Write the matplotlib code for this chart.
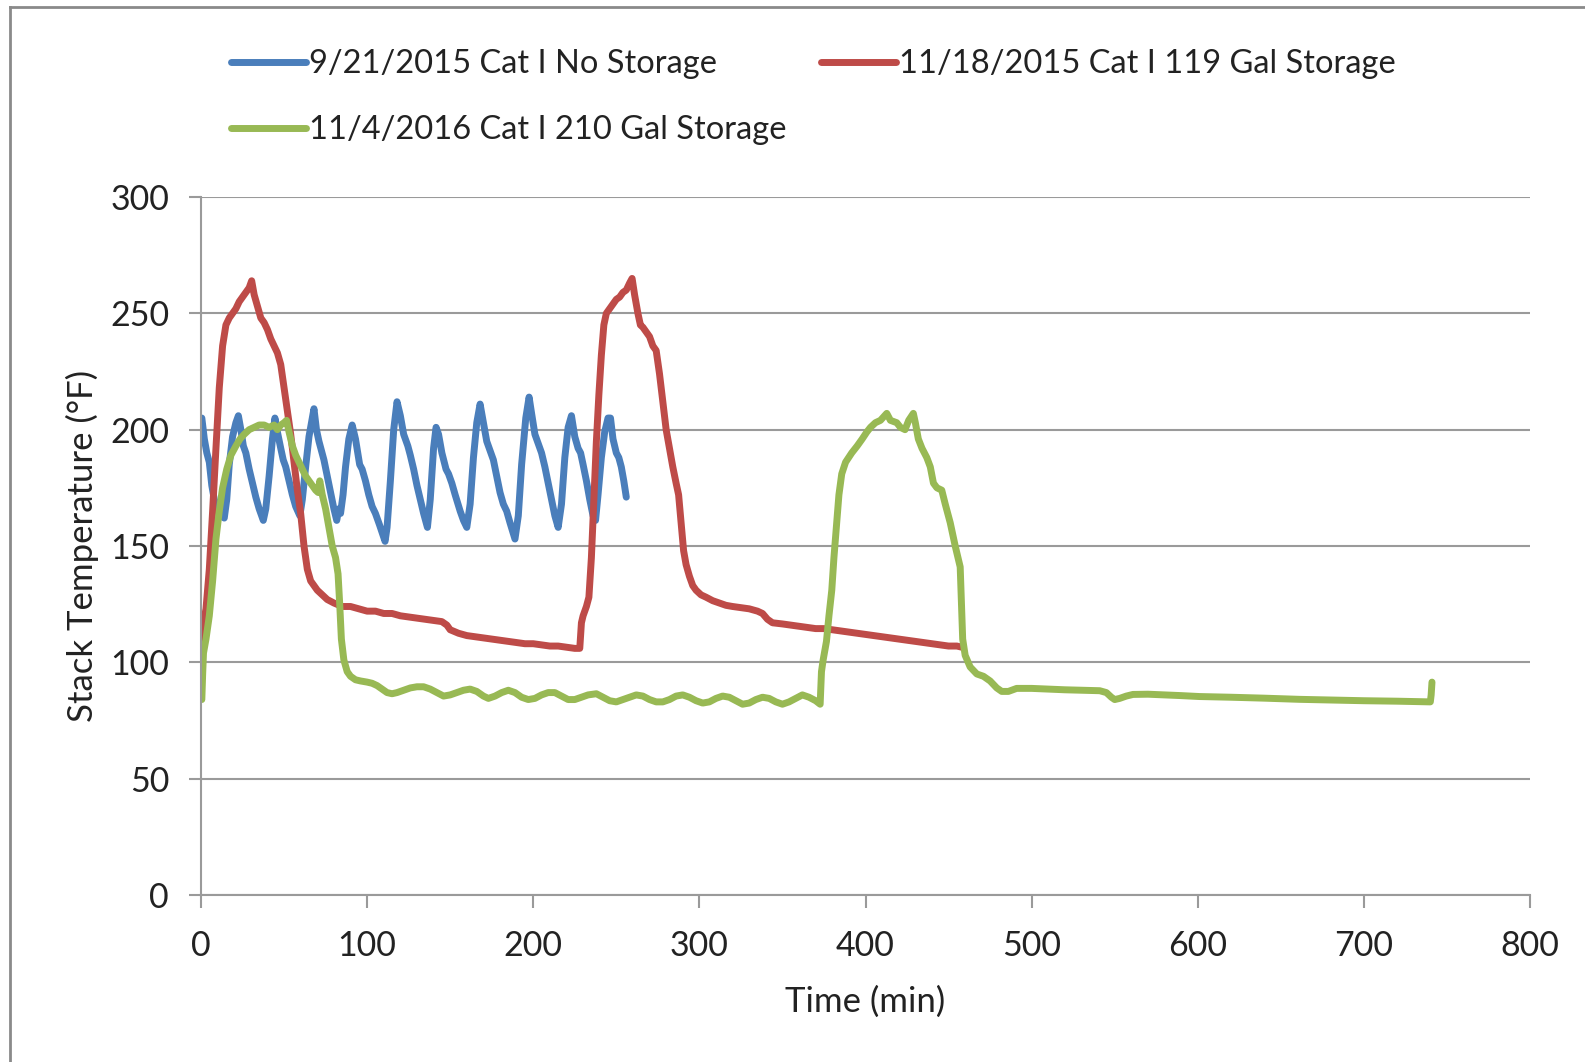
import matplotlib
matplotlib.use('Agg')
import matplotlib.pyplot as plt
from matplotlib.lines import Line2D

plt.rcParams['font.family'] = ['Lato', 'DejaVu Sans']

# 9/21/2015 run, no storage
t_blue = [0.5, 2, 3.5, 5, 6.5, 8, 10, 12, 14, 15.5, 17, 19, 21, 22.5, 24, 25.5, 27, 29, 31, 33, 35, 37.5,
          39, 41, 43, 44.5, 46, 48, 49.5, 51, 53, 55, 57, 59.5, 61, 63, 65, 67, 68, 69.5, 71, 72.5, 74, 76,
          78, 80, 81.7, 83, 84, 85.5, 87, 89, 91, 93, 95.5, 97, 99, 101, 103, 105, 107.5, 110.8, 112, 114,
          116, 118, 120, 122, 124.5, 126, 128, 130, 132, 134, 136.3, 138, 140, 141.5, 143, 145, 147.5, 149,
          151, 153, 156, 158, 160, 162, 164, 166, 168, 170, 172, 174, 176, 178, 180, 182, 184, 186, 189,
          191, 193, 195.5, 197.5, 199, 201, 203, 205, 207, 209, 211, 213, 215, 217, 219, 221, 223, 225,
          227, 228.5, 230, 232, 234, 236, 237.5, 239, 241, 243, 245, 246.5, 248, 250, 251.5, 253, 254.5, 256]
v_blue = [205, 196, 190, 186, 176, 170, 166, 163, 162, 170, 185, 197, 203, 206, 200, 193, 190, 183, 177, 171,
          166, 161, 166, 180, 196, 205, 199, 192, 187, 184, 178, 172, 167, 163, 170, 184, 197, 205, 209, 200,
          195, 191, 187, 180, 173, 166, 161, 166, 164, 172, 184, 196, 202, 196, 185, 183, 178, 172, 167, 164,
          159, 152, 158, 178, 200, 212, 206, 198, 193, 189, 183, 176, 170, 164, 158, 170, 192, 201, 198, 190,
          183, 181, 177, 172, 165, 161, 158, 168, 188, 203, 211, 203, 195, 191, 187, 180, 173, 168, 165, 160,
          153, 163, 185, 205, 214, 207, 198, 194, 190, 184, 177, 170, 163, 158, 168, 188, 201, 206, 197, 192,
          190, 185, 178, 170, 163, 161, 172, 188, 199, 205, 205, 196, 190, 188, 184, 178, 171]

# 11/18/2015 run, 119 gal storage
t_red = [0.5, 1, 2, 3, 5, 7, 9, 11, 13, 15, 17, 19, 21, 23, 25, 27, 29, 30.5, 32, 34, 36, 38, 40, 42, 44, 46,
         48, 50, 52, 54, 56, 58, 60, 62, 64, 66, 68, 70, 73, 76, 80, 85, 90, 95, 100, 105, 110, 115, 120,
         125, 130, 135, 140, 145, 148, 150, 155, 160, 165, 170, 175, 180, 185, 190, 195, 200, 205, 210, 215,
         220, 225, 228, 229, 230, 232, 233.5, 235, 236.5, 238, 239.5, 241, 242.5, 244, 246, 248, 250, 252,
         254, 256, 258, 259.5, 261, 263, 264.5, 266, 268, 270, 272, 274, 276, 278, 280, 282, 284, 286,
         287.5, 289, 290.5, 292, 294, 296, 298, 301, 304, 308, 312, 316, 320, 325, 330, 335, 338, 341, 344,
         350, 355, 360, 365, 370, 375, 380, 385, 390, 395, 400, 405, 410, 415, 420, 425, 430, 435, 440, 445,
         450, 455, 458]
v_red = [105, 112, 119, 123, 140, 165, 192, 218, 236, 245, 248, 250, 252, 255, 257, 259, 261, 264, 258, 253,
         248, 246, 243, 239, 236, 233, 228, 218, 208, 198, 186, 174, 164, 150, 140, 135, 133, 131, 129, 127,
         125.5, 124, 124, 123, 122, 122, 121, 121, 120, 119.5, 119, 118.5, 118, 117.5, 116, 114, 112.5,
         111.5, 111, 110.5, 110, 109.5, 109, 108.5, 108, 108, 107.5, 107, 107, 106.5, 106, 106, 117, 120,
         124, 128, 145, 170, 195, 215, 232, 245, 250, 252, 254, 256, 257, 259, 260, 263, 265, 258, 250, 245,
         244, 242, 240, 236, 234, 224, 212, 200, 192, 184, 177, 172, 160, 148, 142, 137, 133, 131, 129, 128,
         126.5, 125.5, 124.5, 124, 123.5, 123, 122, 121, 118.5, 117, 116.5, 116, 115.5, 115, 114.5, 114.5,
         114, 113.5, 113, 112.5, 112, 111.5, 111, 110.5, 110, 109.5, 109, 108.5, 108, 107.5, 107, 107, 106.5]

# 11/4/2016 run, 210 gal storage
t_green = [0.5, 1, 1.5, 3, 5, 7, 9, 11, 13, 15.5, 18, 21, 23.5, 26, 29, 32, 35, 38, 41, 44, 46, 48, 50, 51.5,
           53, 55, 57, 59, 61, 63, 65, 67, 69, 70.5, 71.5, 73, 75, 77, 79, 81, 82.5, 83.5, 84.5, 86, 88, 90,
           93, 96, 100, 103, 106, 109, 112, 115, 118, 122, 126, 130, 134, 138, 142, 146, 150, 154, 158, 162,
           166, 170, 173, 177, 181, 185, 189, 193, 197, 201, 205, 209, 213, 217, 221, 225, 229, 233, 238, 242,
           246, 250, 254, 258, 262, 266, 270, 274, 278, 282, 286, 290, 294, 298, 302, 306, 310, 314, 318, 322,
           326, 330, 334, 338, 342, 346, 350, 354, 358, 362, 366, 370, 372.7, 373.5, 374.5, 376.5, 378, 379.7,
           381, 382.7, 384, 385.7, 388, 391.7, 395, 398, 400.8, 403, 406, 409, 412.8, 415, 418.8, 421, 423.8,
           426, 428.8, 430, 431.8, 434, 436.9, 439, 440.9, 443, 445.9, 448, 451, 454, 457, 457.8, 458.5, 460,
           463, 467, 471, 475, 479, 482, 486, 491, 500, 510, 520, 530, 541, 545, 548, 550, 553, 557, 561, 570,
           580, 590, 601, 620, 640, 661, 680, 700, 720, 740, 740.5, 741]
v_green = [84, 95, 104, 110, 120, 135, 153, 165, 175, 183, 189, 193, 196, 198, 200, 201, 202, 202, 201, 202,
           200, 202, 203, 204, 199, 193, 189, 186, 183, 180, 178, 176, 174, 173, 178, 172, 166, 158, 150, 145,
           138, 125, 110, 101, 96, 94, 92.5, 92, 91.5, 91, 90, 88.5, 87, 86.5, 87, 88, 89, 89.5, 89.5, 88.5,
           87, 85.5, 86, 87, 88, 88.5, 87.5, 85.5, 84.5, 85.5, 87, 88, 87, 85, 84, 84.5, 86, 87, 87, 85.5, 84,
           84, 85, 86, 86.5, 85, 83.5, 83, 84, 85, 86, 85.5, 84, 83, 83, 84, 85.5, 86, 85, 83.5, 82.5, 83,
           84.5, 85.5, 85, 83.5, 82, 82.5, 84, 85, 84.5, 83, 82, 83, 84.5, 86, 85, 83.5, 82, 96, 101, 109, 120,
           131, 145, 160, 172, 181, 186, 190, 193, 196, 199, 201, 203, 204, 207, 204, 203, 201, 200, 204, 207,
           203, 196, 192, 188, 184, 177, 175, 174, 168, 160, 150, 141, 125, 110, 103, 98, 95, 94, 92, 89, 87.5,
           87.5, 88.8, 88.8, 88.5, 88.2, 88, 87.8, 87, 85, 84, 84.5, 85.5, 86.2, 86.3, 86, 85.7, 85.3, 85, 84.6,
           84.1, 83.8, 83.5, 83.3, 83, 86, 91.5]

labels = ['9/21/2015 Cat I No Storage', '11/18/2015 Cat I 119 Gal Storage', '11/4/2016 Cat I 210 Gal Storage']
colors = ['#4A7EBB', '#BE4B48', '#98B954']

W, H = 1585, 1062
fig = plt.figure(figsize=(W / 100, H / 100), dpi=100)
ax = fig.add_axes([201 / W, 1 - 895 / H, (1530 - 201) / W, (895 - 197) / H])

lw = 5
l1, = ax.plot(t_blue, v_blue, color=colors[0], lw=lw, solid_joinstyle='round', solid_capstyle='round')
l2, = ax.plot(t_red, v_red, color=colors[1], lw=lw, solid_joinstyle='round', solid_capstyle='round')
l3, = ax.plot(t_green, v_green, color=colors[2], lw=lw, solid_joinstyle='round', solid_capstyle='round')

ax.set_xlim(0, 800)
ax.set_ylim(0, 300)
ax.set_xticks(range(0, 801, 100))
ax.set_yticks(range(0, 301, 50))
ax.yaxis.grid(True, color='#9a9a9a', lw=1.5)
ax.set_axisbelow(True)
for s in ['top', 'right']:
    ax.spines[s].set_visible(False)
for s in ['left', 'bottom']:
    ax.spines[s].set_color('#9a9a9a')
    ax.spines[s].set_linewidth(1.5)
ax.tick_params(axis='both', colors='#9a9a9a', length=9, width=1.5, labelsize=24.5, labelcolor='#222222')
ax.tick_params(axis='x', pad=16)
ax.tick_params(axis='y', pad=14)

ax.set_xlabel('Time (min)', fontsize=25, color='#222222', labelpad=17)
ax.set_ylabel('Stack Temperature (°F)', fontsize=25, color='#222222', labelpad=8)

# row-wise order like the spreadsheet legend: blue, red / green
leg = fig.legend([l1, l3, l2], [labels[0], labels[2], labels[1]], ncol=2, loc='upper left',
                 bbox_to_anchor=(202 / W, 1 - 20 / H), frameon=False, fontsize=23.5,
                 handlelength=2.3, handletextpad=0.08, columnspacing=1.05, labelspacing=1.1,
                 labelcolor='#222222')
for h in leg.get_lines():
    h.set_linewidth(5)

# outer frame
fig.add_artist(Line2D([10 / W, 10 / W], [0, 1 - 7 / H], color='#8a8a8a', lw=2))
fig.add_artist(Line2D([10 / W, 1], [1 - 7 / H, 1 - 7 / H], color='#8a8a8a', lw=2))

fig.savefig('out.png', dpi=100)
